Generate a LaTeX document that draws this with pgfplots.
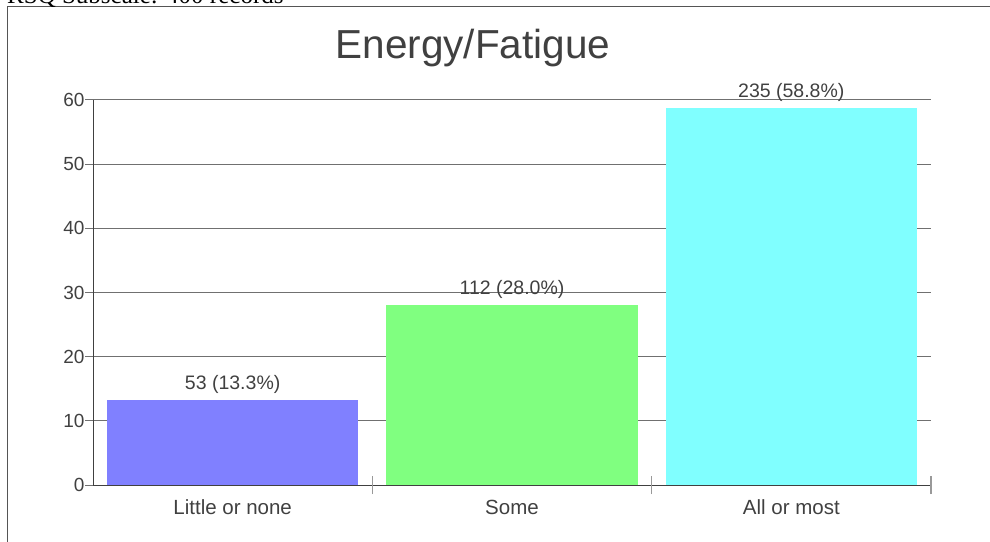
\documentclass[border=0pt]{standalone}
\usepackage{pgfplots}
\pgfplotsset{compat=1.18}
\usepackage{fontspec}
\setmainfont{Liberation Sans}
\newfontfamily\headserif{Liberation Serif}

\definecolor{txt}{HTML}{404040}
\definecolor{gridgray}{HTML}{707070}
\definecolor{tickgray}{HTML}{999999}
\definecolor{framegray}{HTML}{555555}
\definecolor{barA}{HTML}{8080FF}
\definecolor{barB}{HTML}{80FF80}
\definecolor{barC}{HTML}{80FFFF}

\begin{document}
\begin{tikzpicture}
\useasboundingbox (0pt,0pt) rectangle (990pt,541pt);
\clip (0pt,0pt) rectangle (990pt,541pt);
% outer frame, cut off on the right and at the bottom
\draw[framegray, line width=1pt] (7pt,-10pt) -- (7pt,534.5pt) -- (1000pt,534.5pt);
\node[anchor=base west, inner sep=0pt, font=\headserif\fontsize{25}{28}\selectfont] at (7pt,537pt) {RSQ Subscale: 400 records};
\node[anchor=base, inner sep=0pt, text=txt, font=\fontsize{40.5}{46}\selectfont] at (473pt,482pt) {Energy/Fatigue};

\begin{axis}[
    at={(93pt,56pt)}, anchor=south west,
    scale only axis,
    width=838pt, height=385pt,
    xmin=-0.5, xmax=2.5,
    ymin=0, ymax=60,
    axis x line*=bottom,
    axis y line*=left,
    axis line style={draw=txt, line width=1pt},
    xtick={0,1,2},
    xticklabels={Little or none, Some, All or most},
    xtick style={draw=none},
    extra x ticks={0.5,1.5,2.5},
    extra x tick labels={},
    extra x tick style={tick align=center, major tick length=18pt,
        xtick style={draw=tickgray, line width=1.2pt}},
    ytick={0,10,...,60},
    ymajorgrids,
    grid style={draw=gridgray, line width=1pt},
    ytick style={draw=gridgray, line width=1pt},
    tick align=outside,
    major tick length=8pt,
    tick label style={font=\fontsize{19}{22}\selectfont, text=txt},
    xticklabel style={font=\fontsize{20.5}{24}\selectfont, text=txt, text height=15pt, text depth=0pt, yshift=-3pt},
    yticklabel style={xshift=3pt},
    /pgf/number format/assume math mode=true,
    ybar,
    bar width=0.9,
    bar shift=0pt,
    nodes near coords,
    point meta=explicit symbolic,
    every node near coord/.append style={font=\fontsize{19.5}{23}\selectfont, text=txt, yshift=3pt},
]
\addplot[fill=barA, draw=none] coordinates {(0,13.3) [53 (13.3\%)]};
\addplot[fill=barB, draw=none] coordinates {(1,28.0) [112 (28.0\%)]};
\addplot[fill=barC, draw=none] coordinates {(2,58.8) [235 (58.8\%)]};
\end{axis}
\end{tikzpicture}
\end{document}
